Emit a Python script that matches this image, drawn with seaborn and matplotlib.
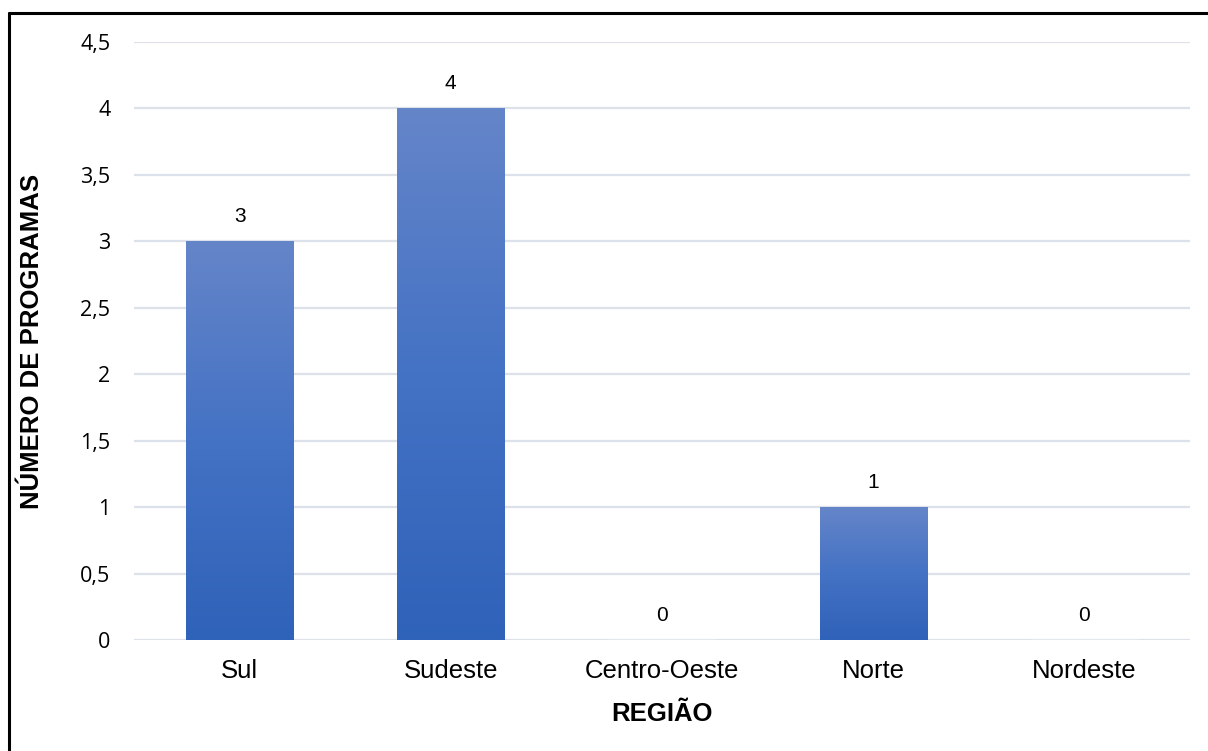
import numpy as np
import pandas as pd
import matplotlib
matplotlib.use("Agg")
import matplotlib.pyplot as plt
from matplotlib.colors import LinearSegmentedColormap
from matplotlib.lines import Line2D
import seaborn as sns

regioes = ["Sul", "Sudeste", "Centro-Oeste", "Norte", "Nordeste"]
programas = [3, 4, 0, 1, 0]
y_ticks = [0, 0.5, 1, 1.5, 2, 2.5, 3, 3.5, 4, 4.5]

df = pd.DataFrame({"regiao": regioes, "programas": programas})

sns.set_theme(style="white")
plt.rcParams["font.family"] = ["Liberation Sans", "DejaVu Sans"]
plt.rcParams["text.color"] = "black"
plt.rcParams["axes.labelcolor"] = "black"

fig = plt.figure(figsize=(12.08, 7.51), dpi=100)
ax = fig.add_axes([0.1109, 0.1478, 0.8742, 0.7963])

sns.barplot(data=df, x="regiao", y="programas", ax=ax, width=0.507,
            color="#4472C4", saturation=1, zorder=2)

# vertical gradient fill clipped to each bar
grad_cmap = LinearSegmentedColormap.from_list("barfill", ["#2F62B9", "#4472C4", "#6585C9"])
grad = np.linspace(0, 1, 256).reshape(-1, 1)
for p in ax.patches:
    h = p.get_height()
    if h <= 0:
        continue
    x0 = p.get_x()
    w = p.get_width()
    im = ax.imshow(grad, cmap=grad_cmap, origin="lower", aspect="auto",
                   extent=[x0, x0 + w, 0, h], zorder=3)
    im.set_clip_path(p)
    p.set_facecolor("none")
    p.set_edgecolor("none")

ax.set_xlim(-0.5, len(regioes) - 0.5)
ax.set_ylim(0, 4.5)
ax.set_yticks(y_ticks)
ax.set_yticklabels([("%g" % t).replace(".", ",") for t in y_ticks],
                   fontfamily=["Open Sans", "DejaVu Sans"], fontsize=15.5, color="#000000")
ax.tick_params(axis="y", length=0, pad=17)
ax.tick_params(axis="x", length=0, pad=14, labelsize=18.5, labelcolor="#000000")

ax.grid(axis="y", color="#DDE2EA", linewidth=1.6, zorder=0)
ax.set_axisbelow(True)
for s in ax.spines.values():
    s.set_visible(False)

for i, v in enumerate(programas):
    ax.annotate(str(v), (i, v), xytext=(0, 11), textcoords="offset points",
                ha="center", va="bottom", fontsize=15, color="#000000")

ax.set_xlabel("REGIÃO", fontsize=18.5, fontweight="bold", labelpad=13, color="black")
ax.set_ylabel("NÚMERO DE PROGRAMAS", fontsize=18.5, fontweight="bold", color="black")
ax.yaxis.set_label_coords(-0.085, 0.5)

# outer frame lines (top and left)
fig.add_artist(Line2D([9 / 1208, 9 / 1208], [0, 1 - 13 / 751], color="black", linewidth=2.2,
                      transform=fig.transFigure))
fig.add_artist(Line2D([9 / 1208, 1], [1 - 13 / 751, 1 - 13 / 751], color="black", linewidth=2.2,
                      transform=fig.transFigure))

fig.savefig("out.png", dpi=100, facecolor="white")
